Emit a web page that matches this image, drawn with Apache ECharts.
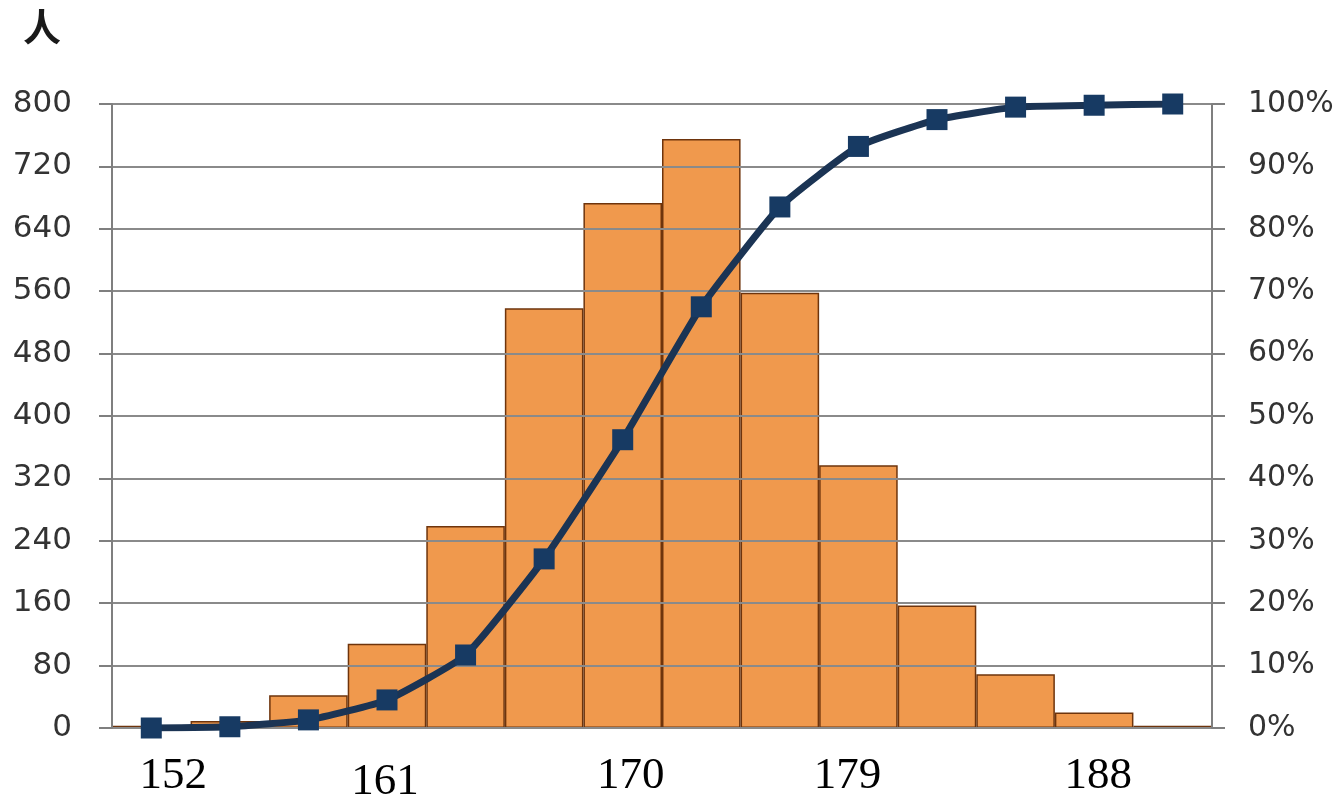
<!DOCTYPE html>
<html>
<head>
<meta charset="utf-8">
<script src="https://cdn.jsdelivr.net/npm/echarts@6/dist/echarts.min.js"></script>
<style>
html,body{margin:0;padding:0;background:#fff;overflow:hidden;}
#chart{width:1342px;height:799px;}
</style>
</head>
<body>
<div id="chart"></div>
<script>
// Height bins (cm)
const categories = ['152','155','158','161','164','167','170','173','176','179','182','185','188','191'];
// Number of people per bin (left axis)
const counts = [3, 9, 42, 108, 259, 538, 673, 755, 558, 337, 157, 69, 20, 3];
// Cumulative percentage (right axis)
const cumulativePct = [0, 0.2, 1.3, 4.5, 11.7, 27.1, 46.2, 67.5, 83.5, 93.2, 97.5, 99.5, 99.8, 100];
// Shown x tick labels
const xTickLabels = ['152','161','170','179','188'];
const leftTicks = [0, 80, 160, 240, 320, 400, 480, 560, 640, 720, 800];
const rightTicks = [0, 10, 20, 30, 40, 50, 60, 70, 80, 90, 100];

const chart = echarts.init(document.getElementById('chart'));

const labelStyleKeys = ['a','b','c','d','e'];
const base = {fontFamily:'Liberation Serif', fontSize:45, color:'#000'};
const rich = {
  a: Object.assign({}, base, {padding:[0,0,0,44]}),
  b: Object.assign({}, base, {padding:[6,4,0,0]}),
  c: Object.assign({}, base, {padding:[0,0,0,16]}),
  d: Object.assign({}, base, {padding:[0,22,0,0]}),
  e: Object.assign({}, base, {padding:[0,0,0,8]})
};

chart.setOption({
  backgroundColor: '#fff',
  animation: false,
  title: {
    text: '人',
    left: 18, top: 3,
    textStyle: {fontFamily:'Noto Sans CJK SC, Noto Sans CJK JP, sans-serif', fontSize:38, fontWeight:'bold', color:'#1a1a1a'}
  },
  grid: {left:112, right:130, top:104, bottom:71, containLabel:false, outerBoundsMode:'none'},
  xAxis: {
    type: 'category',
    data: categories,
    boundaryGap: true,
    axisLine: {show:true, lineStyle:{color:'#7f7f7f', width:2}},
    axisTick: {show:false},
    axisLabel: {
      margin: 26,
      interval: function(i){ return xTickLabels.indexOf(categories[i]) >= 0; },
      formatter: function(v){
        const k = xTickLabels.indexOf(v);
        if (k < 0) return '';
        return '{' + labelStyleKeys[k] + '|' + xTickLabels[k] + '}';
      },
      rich: rich
    }
  },
  yAxis: [
    {
      type: 'value', min: leftTicks[0], max: leftTicks[leftTicks.length-1], interval: 80,
      z: 3,
      axisLine: {show:true, lineStyle:{color:'#7f7f7f', width:2}},
      axisTick: {show:true, length:13, inside:false, lineStyle:{color:'#7f7f7f', width:2}},
      splitLine: {show:true, lineStyle:{color:'#8a8a8a', width:2}},
      axisLabel: {margin:40, fontFamily:'DejaVu Sans', fontSize:31, color:'#333'}
    },
    {
      type: 'value', min: rightTicks[0], max: rightTicks[rightTicks.length-1], interval: 10,
      z: 3,
      axisLine: {show:true, lineStyle:{color:'#7f7f7f', width:2}},
      axisTick: {show:true, length:13, inside:false, lineStyle:{color:'#7f7f7f', width:2}},
      splitLine: {show:false},
      axisLabel: {margin:36, fontFamily:'DejaVu Sans', fontSize:30, color:'#333', formatter:'{value}%'}
    }
  ],
  series: [
    {
      type: 'bar',
      data: counts,
      yAxisIndex: 0,
      barCategoryGap: '0%',
      z: 2,
      itemStyle: {color:'#F0994D', borderColor:'#6E340C', borderWidth:1.5}
    },
    {
      type: 'line',
      data: cumulativePct,
      yAxisIndex: 1,
      z: 10,
      smooth: 0.15,
      symbol: 'rect',
      symbolSize: 21,
      lineStyle: {color:'#1B3454', width:7},
      itemStyle: {color:'#173A63'}
    }
  ]
});
</script>
</body>
</html>
